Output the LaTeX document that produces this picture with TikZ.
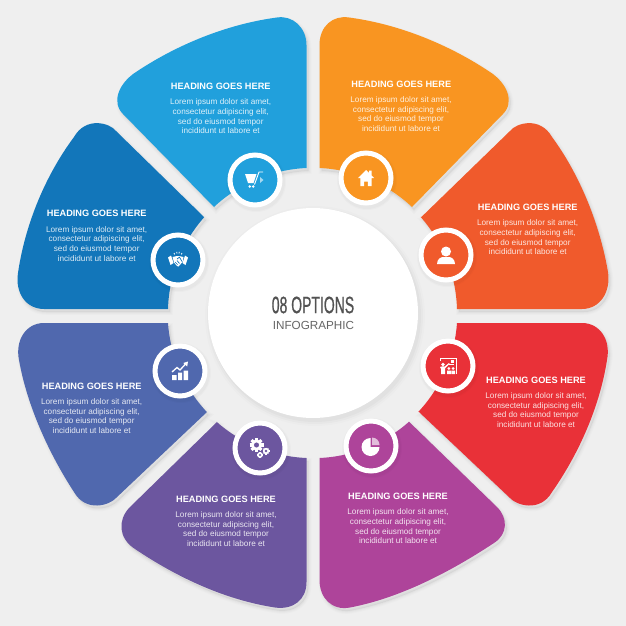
\documentclass[tikz,border=0pt]{standalone}
\usepackage{fontspec}
\setmainfont{Liberation Sans}
\newfontfamily\condfont[FakeStretch=0.59,FakeBold=0.7]{Liberation Sans}
\definecolor{bgc}{HTML}{EFEFEF}
\definecolor{cOrange}{HTML}{F99521}
\definecolor{cCoral}{HTML}{F05A2C}
\definecolor{cRed}{HTML}{E93138}
\definecolor{cMagenta}{HTML}{AE449A}
\definecolor{cPurple}{HTML}{6C569F}
\definecolor{cIndigo}{HTML}{5068AE}
\definecolor{cBlue}{HTML}{1276BA}
\definecolor{cCyan}{HTML}{21A0DC}
\tikzset{
  headtxt/.style={text=white,inner sep=0pt,font=\fontsize{9.2}{11}\selectfont\bfseries},
  bodytxt/.style={text=white,text opacity=.85,inner sep=0pt,align=center,font=\fontsize{8.2}{9.67}\selectfont}
}
\newcommand\petal[2]{%
  \foreach \w/\o in {6/.012,4/.016,2/.02}{\path[fill=black,draw=black,opacity=\o,line width=\w pt,shift={(2,3)}] #2;}
  \path[fill=#1] #2;}
\newcommand\badge[3]{%
  \foreach \w/\o in {30/.015,29/.02}{\fill[black,opacity=\o] (#2+1,#3+2) circle[radius=\w pt];}
  \node[circle,fill=#1,draw=white,line width=5pt,minimum size=50pt,inner sep=0pt] (b#1) at (#2,#3) {};}
\newcommand\gearicon[4]{% x y r colour
  \foreach \a in {0,45,...,315}{\draw[white,line width=#3*0.55pt] (#1,#2) ++(\a:#3*1.25pt) -- ++(\a+180:#3*0.5pt);}
  \fill[white] (#1,#2) circle[radius=#3*1pt];
  \fill[#4] (#1,#2) circle[radius=#3*0.45pt];}
\begin{document}
\begin{tikzpicture}[x=1pt,y=-1pt]
\useasboundingbox (0,0) rectangle (626,626);
\fill[bgc] (0,0) rectangle (626,626);
% petals
\petal{cOrange}{(412,207) -- (503,114) .. controls (515,102) and (507,83) .. (490,72) .. controls (448,44) and (398,24) .. (349,17.5) .. controls (333,15) and (319.5,26) .. (319.5,45) -- (319.5,168) arc[start angle=87.4,end angle=47,radius=145pt] -- cycle}
\petal{cCoral}{(421.7,216.7) -- (510,131) .. controls (516,123) and (540,116) .. (552,137) .. controls (580,175) and (600,225) .. (608,272) .. controls (611,292) and (600,309) .. (582,309) -- (457,309) arc[start angle=1.6,end angle=41.5,radius=145pt] -- cycle}
\petal{cRed}{(419,412) -- (510,498) .. controls (516,505) and (540,513) .. (552,492) .. controls (580,452) and (600,405) .. (607,360) .. controls (611,340) and (600,323) .. (582,323) -- (457,323) arc[start angle=-4,end angle=-43,radius=145pt] -- cycle}
\petal{cMagenta}{(409,421.7) -- (497,507) .. controls (508,518) and (508,534) .. (494,543) .. controls (450,572) and (400,598) .. (350,607.5) .. controls (332,611) and (319.5,598) .. (319.5,580) -- (319.5,458) arc[start angle=-87.4,end angle=-48.6,radius=145pt] -- cycle}
\petal{cPurple}{(217,422) -- (129,508) .. controls (118,520) and (118,538) .. (135,549) .. controls (178,578) and (226,600) .. (275,607.5) .. controls (293,610) and (306.5,600) .. (306.5,582) -- (306.5,458) arc[start angle=-92.4,end angle=-131.4,radius=145pt] -- cycle}
\petal{cIndigo}{(207,412) -- (116,498) .. controls (110,505) and (86,513) .. (74,492) .. controls (48,452) and (27,405) .. (19,360) .. controls (15,340) and (26,323) .. (44,323) -- (168,323) arc[start angle=-176,end angle=-137,radius=145pt] -- cycle}
\petal{cBlue}{(204,217) -- (116,131) .. controls (110,123) and (86,116) .. (74,137) .. controls (45,176) and (25,225) .. (18,273) .. controls (15,293) and (26,309) .. (44,309) -- (168,309) arc[start angle=178.4,end angle=138.6,radius=145pt] -- cycle}
\petal{cCyan}{(214,207) -- (123,114) .. controls (111,102) and (119,83) .. (136,72) .. controls (178,44) and (228,24) .. (277,17.5) .. controls (293,15) and (306.5,28) .. (306.5,45) -- (306.5,168) arc[start angle=92.6,end angle=133,radius=145pt] -- cycle}
% centre disc
\foreach \w/\o in {110/.012,108/.018,106/.025}{\fill[black,opacity=\o] (315,316) circle[radius=\w pt];}
\node[circle,fill=white,minimum size=210pt,inner sep=0pt] (hub) at (313,313) {};
\node[inner sep=0pt,text=black!68] (title) at (313,305) {\condfont\fontsize{23.7}{26}\selectfont 08 OPTIONS};
\node[inner sep=0pt,text=black!60] (sub) at (313.5,325) {\fontsize{11.7}{14}\selectfont INFOGRAPHIC};
% badges
\badge{cOrange}{366}{178}
\badge{cCoral}{446}{255}
\badge{cRed}{448}{366}
\badge{cMagenta}{371}{446}
\badge{cPurple}{260}{448}
\badge{cIndigo}{180}{371}
\badge{cBlue}{178}{260}
\badge{cCyan}{255}{180}
% home
\begin{scope}[shift={(366,178)}]
\fill[white] (-8,0) -- (0,-8) -- (3,-5.2) -- (3,-7.5) -- (5.5,-7.5) -- (5.5,-2.7) -- (8,0) -- (5.7,0) -- (5.7,8) -- (1.8,8) -- (1.8,3.5) -- (-1.8,3.5) -- (-1.8,8) -- (-5.7,8) -- (-5.7,0) -- cycle;
\end{scope}
% person
\begin{scope}[shift={(446,255)}]
\fill[white] (0,-3.5) circle[radius=5pt];
\fill[white] (-9,9) .. controls (-9,4) and (-5,2) .. (-3,2) -- (3,2) .. controls (5,2) and (9,4) .. (9,9) -- cycle;
\end{scope}
% teacher
\begin{scope}[shift={(448,366)}]
\draw[white,line width=1pt] (-8,-8) -- (8,-8) -- (8,8);
\draw[white,line width=.8pt] (-8,-8) -- (-8,-5) (1,-2) -- (6,-2);
\fill[white] (2.5,-6) rectangle (6,-3.2);
\fill[white] (-5,-1.5) circle[radius=1.9pt];
\fill[white] (-8,1) -- (-5.5,0.3) -- (-3.5,0.6) -- (1,-3) -- (1.6,-2.2) -- (-2.8,2.2) -- (-3,8) -- (-7,8) -- (-7,3) -- cycle;
\fill[white] (0.8,2.5) circle[radius=1.5pt] (5,2.5) circle[radius=1.5pt];
\fill[white] (-1,4.5) rectangle (3,8) (3.5,4.5) rectangle (7,8);
\end{scope}
% pie
\begin{scope}[shift={(371,446)}]
\fill[white] (-0.5,1) -- (-0.5,-8) arc[start angle=90,end angle=360,radius=9pt] -- cycle;
\fill[white,opacity=.65] (1,-1) -- (1,-8.5) arc[start angle=90,end angle=0,radius=7.5pt] -- cycle;
\end{scope}
% gears
\begin{scope}[shift={(260,448)}]
\gearicon{-3.5}{-3}{5.6}{cPurple}
\gearicon{6}{3}{2.8}{cPurple}
\gearicon{0}{7}{2.3}{cPurple}
\end{scope}
% chart
\begin{scope}[shift={(180,371)}]
\fill[white] (-8,4) rectangle (-3.5,9) (-2,1.5) rectangle (2,9) (3.5,-0.5) rectangle (8,9);
\draw[white,line width=1.3pt] (-8,1) -- (-3,-3.5) -- (0,-1) -- (6,-7.5);
\fill[white] (8,-9.5) -- (7.2,-4.5) -- (3.4,-8) -- cycle;
\end{scope}
% handshake
\begin{scope}[shift={(178,260)}]
\fill[white] (-10,-2.5) -- (-7,-4.5) -- (-4.5,3) -- (-7.5,5) -- cycle;
\fill[white] (10,-2.5) -- (7,-4.5) -- (4.5,3) -- (7.5,5) -- cycle;
\fill[white] (-5.5,-3) -- (-1,-4) -- (1,-4) -- (5.5,-3) -- (4.5,2) -- (0.5,6.5) -- (-1,6) -- (-4,2.5) -- cycle;
\draw[cBlue,line width=.7pt] (-1,-1) -- (1.5,-2.8) -- (4,1.5) (-3,2) -- (-0.5,4.5) (-1,0.5) -- (1.5,3.5);
\draw[white,line width=.8pt] (-4,-7) -- (-3.4,-5.6) (-1.3,-8.2) -- (-1,-6.5) (1.3,-8.2) -- (1,-6.5) (4,-7) -- (3.4,-5.6);
\end{scope}
% cart
\begin{scope}[shift={(255,180)}]
\fill[white] (-10,-6) -- (1.5,-6) -- (-1.5,3) -- (-7,3) -- cycle;
\draw[white,line width=.9pt] (-0.5,4.5) -- (4,-8) -- (8,-8);
\fill[white] (-5.3,6.5) circle[radius=1.3pt] (-1.8,6.5) circle[radius=1.3pt];
\fill[white,opacity=.6] (5,-3) -- (8.5,0) -- (5,3) -- cycle;
\end{scope}
% texts
\node[headtxt] (h1) at (401.3,84) {HEADING GOES HERE};
\node[bodytxt] (t1) at (401,114.2) {Lorem ipsum dolor sit amet,\\consectetur adipiscing elit,\\sed do eiusmod tempor\\incididunt ut labore et};
\node[headtxt] (h2) at (527.7,207.3) {HEADING GOES HERE};
\node[bodytxt] (t2) at (527.7,237.5) {Lorem ipsum dolor sit amet,\\consectetur adipiscing elit,\\sed do eiusmod tempor\\incididunt ut labore et};
\node[headtxt] (h3) at (536,380.3) {HEADING GOES HERE};
\node[bodytxt] (t3) at (536,410.2) {Lorem ipsum dolor sit amet,\\consectetur adipiscing elit,\\sed do eiusmod tempor\\incididunt ut labore et};
\node[headtxt] (h4) at (398,496.7) {HEADING GOES HERE};
\node[bodytxt] (t4) at (398,526.5) {Lorem ipsum dolor sit amet,\\consectetur adipiscing elit,\\sed do eiusmod tempor\\incididunt ut labore et};
\node[headtxt] (h5) at (226,499) {HEADING GOES HERE};
\node[bodytxt] (t5) at (226,529.2) {Lorem ipsum dolor sit amet,\\consectetur adipiscing elit,\\sed do eiusmod tempor\\incididunt ut labore et};
\node[headtxt] (h6) at (91.7,386.3) {HEADING GOES HERE};
\node[bodytxt] (t6) at (91.7,416.2) {Lorem ipsum dolor sit amet,\\consectetur adipiscing elit,\\sed do eiusmod tempor\\incididunt ut labore et};
\node[headtxt] (h7) at (96.7,213.7) {HEADING GOES HERE};
\node[bodytxt] (t7) at (96.7,243.8) {Lorem ipsum dolor sit amet,\\consectetur adipiscing elit,\\sed do eiusmod tempor\\incididunt ut labore et};
\node[headtxt] (h8) at (220.7,86.7) {HEADING GOES HERE};
\node[bodytxt] (t8) at (220.7,116.5) {Lorem ipsum dolor sit amet,\\consectetur adipiscing elit,\\sed do eiusmod tempor\\incididunt ut labore et};
\end{tikzpicture}
\end{document}
